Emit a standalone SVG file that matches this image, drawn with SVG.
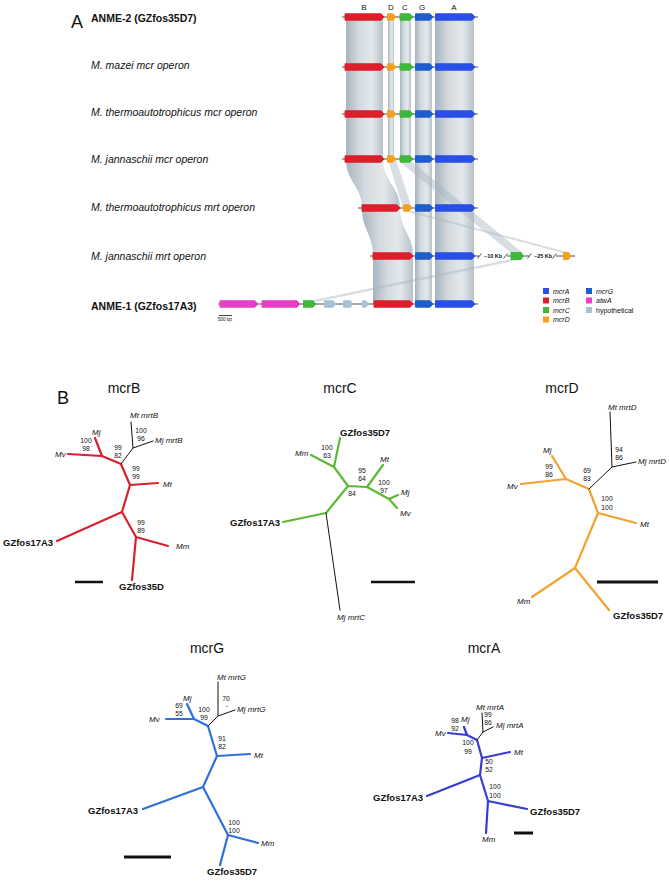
<svg xmlns="http://www.w3.org/2000/svg" xmlns:xlink="http://www.w3.org/1999/xlink" width="669" height="881" viewBox="0 0 669 881">
<style>
text{font-family:"Liberation Sans",Arial,sans-serif;fill:#111}
.rowlbl{font-style:italic;font-size:10.5px}
.rowbold{font-weight:bold;font-size:10.5px}
.col{font-size:8px;text-anchor:middle}
.leg{font-size:7px}
.legi{font-size:7px;font-style:italic}
.kb{font-size:5.5px;font-weight:bold}
.it{font-style:italic;font-size:8px}
.bs{font-size:6.8px;text-anchor:middle}
.gz{font-weight:bold;font-size:9.5px}
.title{font-size:14px;text-anchor:middle}
.big{font-size:18px}
.seq{stroke:#222;stroke-width:0.8;fill:none}
.g{stroke-linejoin:round;stroke-width:1}
.gB{fill:#dd1f2b;stroke:#dd1f2b}
.gD{fill:#f5a020;stroke:#f5a020}
.gC{fill:#3fb83a;stroke:#3fb83a}
.gG{fill:#1f5ccc;stroke:#1f5ccc}
.gA{fill:#2a4fe6;stroke:#2a4fe6}
.gP{fill:#e63ec6;stroke:#e63ec6}
.gH{fill:#a8c1d3;stroke:#a8c1d3}
.band{fill:url(#bandGrad)}
.thin{fill:#a9b6c0;opacity:0.45}
.br{fill:none;stroke-linejoin:round;stroke-linecap:round;stroke-width:2.2}
.bk{fill:none;stroke:#111;stroke-width:1;stroke-linecap:round}
.sb{stroke:#111;fill:none}
</style>
<defs>
<linearGradient id="bandGrad" x1="0" y1="0" x2="1" y2="0">
<stop offset="0" stop-color="#a7b4be"/>
<stop offset="0.35" stop-color="#d3dadf"/>
<stop offset="0.7" stop-color="#e4e8eb"/>
<stop offset="1" stop-color="#b6c1c9"/>
</linearGradient>
<g id="mcrRow">
<path class="seq" d="M342,0 H478"/>
<polygon class="g gB" points="345,-3.2 381,-3.2 384,0 381,3.2 345,3.2"/>
<polygon class="g gD" points="387.5,-3.2 393,-3.2 396,0 393,3.2 387.5,3.2"/>
<polygon class="g gC" points="400,-3.2 410,-3.2 413,0 410,3.2 400,3.2"/>
<polygon class="g gG" points="415.5,-3.2 430,-3.2 433,0 430,3.2 415.5,3.2"/>
<polygon class="g gA" points="435.5,-3.2 472,-3.2 475,0 472,3.2 435.5,3.2"/>
</g>
</defs>
<rect width="669" height="881" fill="#fff"/>

<!-- Panel A -->
<g id="panelA">
<text class="big" x="71" y="28">A</text>
<g id="columnLetters">
<text class="col" x="364" y="10">B</text>
<text class="col" x="391" y="10">D</text>
<text class="col" x="405" y="10">C</text>
<text class="col" x="422" y="10">G</text>
<text class="col" x="454" y="10">A</text>
</g>
<g id="homologyBands">
<rect class="band" x="346" y="17" width="37" height="142"/>
<rect class="band" x="388" y="17" width="6" height="142"/>
<rect class="band" x="400" y="17" width="11" height="142"/>
<rect class="band" x="415" y="17" width="17" height="287"/>
<rect class="band" x="435" y="17" width="39" height="287"/>
<path class="band" d="M346,159 C346,182 362,186 362,208 L400,208 C400,186 383,182 383,159 Z"/>
<path class="band" d="M362,208 C362,230 373,234 373,256 L413,256 C413,234 400,230 400,208 Z"/>
<rect class="band" x="373" y="256" width="40" height="48"/>
<polygon class="thin" points="388,160 396,160 412,208 403,208"/>
<polygon class="thin" points="400,162 412,162 523,253 511,253"/>
<polygon class="thin" points="404,211 412,211 571,253 563,253"/>
<polygon class="thin" points="304,302 316,302 523,259 511,259"/>
</g>
<g id="row-anme2">
<text class="rowbold" x="91" y="22">ANME-2 (GZfos35D7)</text>
<use href="#mcrRow" y="17"/>
</g>
<g id="row-mmazei">
<text class="rowlbl" x="91" y="69">M. mazei mcr operon</text>
<use href="#mcrRow" y="67"/>
</g>
<g id="row-mtherm-mcr">
<text class="rowlbl" x="91" y="116">M. thermoautotrophicus mcr operon</text>
<use href="#mcrRow" y="114"/>
</g>
<g id="row-mjann-mcr">
<text class="rowlbl" x="91" y="163">M. jannaschii mcr operon</text>
<use href="#mcrRow" y="159"/>
</g>
<g id="row-mtherm-mrt">
<text class="rowlbl" x="91" y="211">M. thermoautotrophicus mrt operon</text>
<path class="seq" d="M358,208 H478"/>
<polygon class="g gB" points="362,204.8 397,204.8 400,208 397,211.2 362,211.2"/>
<polygon class="g gD" points="403.5,204.8 409,204.8 412,208 409,211.2 403.5,211.2"/>
<polygon class="g gG" points="415.5,204.8 430,204.8 433,208 430,211.2 415.5,211.2"/>
<polygon class="g gA" points="435.5,204.8 472,204.8 475,208 472,211.2 435.5,211.2"/>
</g>
<g id="row-mjann-mrt">
<text class="rowlbl" x="91" y="260">M. jannaschii mrt operon</text>
<path class="seq" d="M370,256 H479 M507,256 H529 M556,256 H575"/>
<path class="seq" d="M477.5,258.5 L481.5,253.5 M503.5,258.5 L507.5,253.5 M527.5,258.5 L531.5,253.5 M552.5,258.5 L556.5,253.5"/>
<text class="kb" x="484" y="258">~10 Kb</text>
<text class="kb" x="534" y="258">~25 Kb</text>
<polygon class="g gB" points="373,252.8 410,252.8 413,256 410,259.2 373,259.2"/>
<polygon class="g gG" points="415.5,252.8 430,252.8 433,256 430,259.2 415.5,259.2"/>
<polygon class="g gA" points="435.5,252.8 472,252.8 475,256 472,259.2 435.5,259.2"/>
<polygon class="g gC" points="511,252.5 521,252.5 523.5,256 521,259.5 511,259.5"/>
<polygon class="g gD" points="563.5,252.5 568.5,252.5 571,256 568.5,259.5 563.5,259.5"/>
</g>
<g id="row-anme1">
<text class="rowbold" x="91" y="310">ANME-1 (GZfos17A3)</text>
<path class="seq" d="M218,304 H478"/>
<polygon class="g gP" points="220,300.8 255,300.8 258,304 255,307.2 220,307.2"/>
<polygon class="g gP" points="262,300.8 297,300.8 300,304 297,307.2 262,307.2"/>
<polygon class="g gC" points="303.5,300.8 313,300.8 316,304 313,307.2 303.5,307.2"/>
<polygon class="g gH" points="324.5,300.8 333,300.8 336,304 333,307.2 324.5,307.2"/>
<polygon class="g gH" points="343.5,300.8 350.5,300.8 353,304 350.5,307.2 343.5,307.2"/>
<polygon class="g gH" points="362.5,300.8 366,300.8 368,304 366,307.2 362.5,307.2"/>
<polygon class="g gB" points="374,300.8 410,300.8 413,304 410,307.2 374,307.2"/>
<polygon class="g gG" points="415.5,300.8 430,300.8 433,304 430,307.2 415.5,307.2"/>
<polygon class="g gA" points="435.5,300.8 472,300.8 475,304 472,307.2 435.5,307.2"/>
</g>
<g id="scale500">
<path class="sb" stroke-width="0.8" d="M219,315.5 H232"/>
<text x="218" y="321" style="font-size:4.5px">500 bp</text>
</g>
<g id="legend">
<rect class="gA" x="543.5" y="288.5" width="5" height="5"/>
<text class="legi" x="553" y="293.5">mcrA</text>
<rect class="gB" x="543.5" y="298" width="5" height="5"/>
<text class="legi" x="553" y="303">mcrB</text>
<rect class="gC" x="543.5" y="307.5" width="5" height="5"/>
<text class="legi" x="553" y="312.5">mcrC</text>
<rect class="gD" x="543.5" y="317" width="5" height="5"/>
<text class="legi" x="553" y="322">mcrD</text>
<rect class="gG" x="586.5" y="288.5" width="5" height="5"/>
<text class="legi" x="596" y="293.5">mcrG</text>
<rect class="gP" x="586.5" y="298" width="5" height="5"/>
<text class="legi" x="596" y="303">atwA</text>
<rect class="gH" x="586.5" y="307.5" width="5" height="5"/>
<text class="leg" x="596" y="312.5">hypothetical</text>
</g>
</g>

<!-- Panel B -->
<text class="big" x="57" y="404">B</text>

<g id="tree-mcrB">
<text class="title" x="124" y="393">mcrB</text>
<g id="connectors-mcrB">
<path class="br" stroke="#d8202e" d="M102,456 L95,438 M102,456 L68,454 M102,456 L121,464 L130,485 L158,483 M130,485 L122,512 L57,541 M122,512 L136,537 L168,546 M136,537 L132,580"/>
<path class="bk" d="M121,464 L133,448 L131,422 M133,448 L153,441"/>
</g>
<text class="it" x="92" y="435">Mj</text>
<text class="it" x="55" y="457">Mv</text>
<text class="it" x="130" y="418">Mt mrtB</text>
<text class="it" x="155" y="443">Mj mrtB</text>
<text class="bs" x="141" y="433">100</text><text class="bs" x="141" y="441">96</text>
<text class="bs" x="86" y="443">100</text><text class="bs" x="86" y="451">98</text>
<text class="bs" x="118" y="450">99</text><text class="bs" x="118" y="458">82</text>
<text class="bs" x="136" y="471">99</text><text class="bs" x="136" y="479">99</text>
<text class="it" x="163" y="487">Mt</text>
<text class="bs" x="141" y="525">99</text><text class="bs" x="141" y="533">89</text>
<text class="gz" x="3" y="546">GZfos17A3</text>
<text class="it" x="176" y="549">Mm</text>
<text class="gz" x="119" y="590">GZfos35D</text>
<path class="sb" stroke-width="2.5" d="M75,582 H103"/>
</g>

<g id="tree-mcrC">
<text class="title" x="340" y="393">mcrC</text>
<g id="connectors-mcrC">
<path class="br" stroke="#5cb933" d="M334,467 L340,438 M334,467 L311,455 M334,467 L348,486 L367,487 L383,465 M367,487 L389,499 L398,495 M389,499 L397,508 M348,486 L326,513 L283,522"/>
<path class="bk" d="M326,513 L340,610"/>
</g>
<text class="gz" x="340" y="436">GZfos35D7</text>
<text class="it" x="295" y="456">Mm</text>
<text class="bs" x="327" y="450">100</text><text class="bs" x="327" y="458">63</text>
<text class="it" x="380" y="462">Mt</text>
<text class="bs" x="362" y="473">95</text><text class="bs" x="362" y="481">64</text>
<text class="it" x="401" y="495">Mj</text>
<text class="it" x="400" y="516">Mv</text>
<text class="bs" x="384" y="485">100</text><text class="bs" x="384" y="493">97</text>
<text class="bs" x="352" y="496">84</text>
<text class="gz" x="230" y="526">GZfos17A3</text>
<text class="it" x="337" y="620">Mj mrtC</text>
<path class="sb" stroke-width="2.5" d="M371,582 H415"/>
</g>

<g id="tree-mcrD">
<text class="title" x="562" y="393">mcrD</text>
<g id="connectors-mcrD">
<path class="br" stroke="#f2a22e" d="M566,479 L552,456 M566,479 L521,484 M566,479 L589,489 L598,513 L636,523 M598,513 L575,568 L532,597 M575,568 L609,610"/>
<path class="bk" d="M589,489 L612,467 L610,412 M612,467 L636,462"/>
</g>
<text class="it" x="608" y="410">Mt mrtD</text>
<text class="it" x="638" y="464">Mj mrtD</text>
<text class="bs" x="619" y="452">94</text><text class="bs" x="619" y="460">86</text>
<text class="it" x="543" y="453">Mj</text>
<text class="it" x="507" y="489">Mv</text>
<text class="bs" x="549" y="469">99</text><text class="bs" x="549" y="477">86</text>
<text class="bs" x="587" y="473">69</text><text class="bs" x="587" y="481">83</text>
<text class="it" x="640" y="527">Mt</text>
<text class="bs" x="607" y="501">100</text><text class="bs" x="607" y="510">100</text>
<text class="it" x="517" y="604">Mm</text>
<text class="gz" x="613" y="619">GZfos35D7</text>
<path class="sb" stroke-width="3" d="M597,582 H658"/>
</g>

<g id="tree-mcrG">
<text class="title" x="207" y="653">mcrG</text>
<g id="connectors-mcrG">
<path class="br" stroke="#2f70da" d="M194,719 L187,704 M194,719 L166,719 M194,719 L208,726 L217,756 L250,754 M217,756 L203,787 L143,809 M203,787 L228,835 L258,843 M228,835 L220,865"/>
<path class="bk" d="M208,726 L218,716 L218,682 M218,716 L235,710"/>
</g>
<text class="it" x="217" y="680">Mt mrtG</text>
<text class="it" x="237" y="712">Mj mrtG</text>
<text class="bs" x="226" y="701">70</text>
<text class="bs" x="227" y="708">-</text>
<text class="it" x="183" y="701">Mj</text>
<text class="it" x="149" y="722">Mv</text>
<text class="bs" x="179" y="708">69</text><text class="bs" x="179" y="716">55</text>
<text class="bs" x="204" y="712">100</text><text class="bs" x="204" y="720">99</text>
<text class="it" x="254" y="758">Mt</text>
<text class="bs" x="222" y="741">91</text><text class="bs" x="222" y="749">82</text>
<text class="gz" x="88" y="814">GZfos17A3</text>
<text class="bs" x="234" y="825">100</text><text class="bs" x="234" y="833">100</text>
<text class="it" x="261" y="846">Mm</text>
<text class="gz" x="207" y="875">GZfos35D7</text>
<path class="sb" stroke-width="3" d="M124,857 H171"/>
</g>

<g id="tree-mcrA">
<text class="title" x="484" y="653">mcrA</text>
<g id="connectors-mcrA">
<path class="br" stroke="#3a3bd2" d="M467,735 L464,727 M467,735 L448,733 M467,735 L477,740 L482,758 L510,752 M482,758 L480,775 L427,796 M480,775 L488,801 L527,809 M488,801 L486,833"/>
<path class="bk" d="M477,740 L483,732 L482,713 M483,732 L493,727"/>
</g>
<text class="it" x="476" y="710">Mt mrtA</text>
<text class="bs" x="488" y="717">99</text><text class="bs" x="488" y="725">86</text>
<text class="it" x="496" y="728">Mj mrtA</text>
<text class="bs" x="455" y="723">98</text><text class="bs" x="455" y="731">92</text>
<text class="it" x="461" y="722">Mj</text>
<text class="it" x="435" y="736">Mv</text>
<text class="bs" x="468" y="745">100</text><text class="bs" x="468" y="754">99</text>
<text class="it" x="514" y="755">Mt</text>
<text class="bs" x="489" y="764">50</text><text class="bs" x="489" y="772">52</text>
<text class="gz" x="373" y="801">GZfos17A3</text>
<text class="bs" x="495" y="789">100</text><text class="bs" x="495" y="798">100</text>
<text class="gz" x="530" y="815">GZfos35D7</text>
<text class="it" x="482" y="842">Mm</text>
<path class="sb" stroke-width="3" d="M514,833 H533"/>
</g>
</svg>
